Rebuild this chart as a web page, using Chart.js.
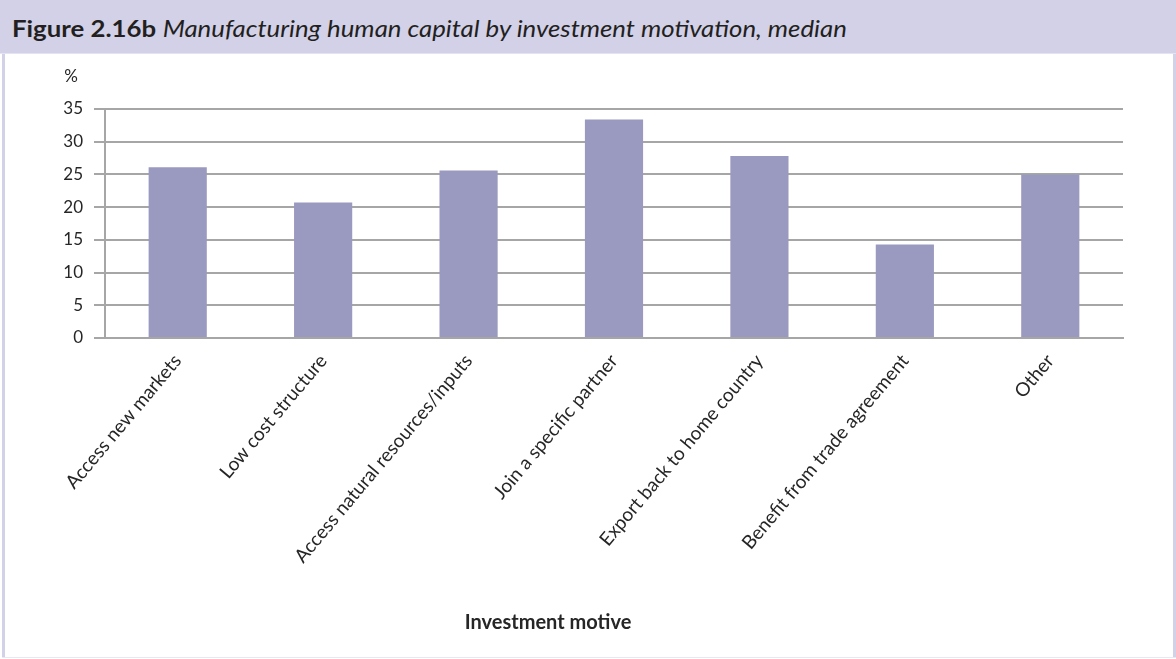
<!DOCTYPE html>
<html><head><meta charset="utf-8">
<script src="https://cdn.jsdelivr.net/npm/chart.js@4"></script>
<style>
html,body{margin:0;padding:0;background:#fff;}
#titlebar{position:absolute;left:0;top:0;width:1176px;height:53px;background:#d2d1e8;border-bottom:1px solid #e4e3f1;}
#titlebar div{position:absolute;left:12px;top:14px;font-family:Lato,"Open Sans",sans-serif;font-size:23px;color:#231f20;white-space:nowrap;transform:scaleX(1.12);transform-origin:0 0;}
#titlebar b{font-weight:700;}
#titlebar i{font-style:italic;}
#lb{position:absolute;left:2px;top:54px;width:3px;height:604px;background:#d2d1e8;}
#rb{position:absolute;left:1173px;top:54px;width:3px;height:604px;background:#d2d1e8;}
#bb{position:absolute;left:2px;top:657px;width:1174px;height:1px;background:#e8e7f3;}
#box{position:absolute;left:5px;top:54px;width:1168px;height:603px;}
</style>
</head><body>
<div id="titlebar"><div><b>Figure 2.16b</b> <i>Manufacturing human capital by investment motivation, median</i></div></div>
<div id="lb"></div><div id="rb"></div><div id="bb"></div>
<div id="box"><canvas id="c" width="1168" height="603"></canvas></div>
<script>
const categories = ["Access new markets","Low cost structure","Access natural resources/inputs","Join a specific partner","Export back to home country","Benefit from trade agreement","Other"];
const values = [26.1, 20.7, 25.6, 33.4, 27.8, 14.3, 25.0];
const yTicks = [0, 5, 10, 15, 20, 25, 30, 35];
const yUnit = "%";
const xTitle = "Investment motive";

const FONT = "Lato, 'Open Sans', sans-serif";
const textPlugin = {
  id: 'extraText',
  afterDraw(chart) {
    const ctx = chart.ctx;
    ctx.save();
    ctx.fillStyle = '#262626';
    ctx.textAlign = 'center';
    ctx.textBaseline = 'middle';
    ctx.font = "17px " + FONT;
    ctx.fillText(yUnit, 66, 23);
    ctx.font = "bold 20px " + FONT;
    ctx.fillText(xTitle, 543, 569);
    ctx.restore();
  }
};

new Chart(document.getElementById('c'), {
  type: 'bar',
  data: {
    labels: categories,
    datasets: [{
      data: values,
      backgroundColor: '#9a99bf',
      borderWidth: 0,
      categoryPercentage: 1,
      barPercentage: 0.4
    }]
  },
  options: {
    responsive: false,
    animation: false,
    devicePixelRatio: 1,
    layout: { padding: { top: 55, right: 50, left: 0, bottom: 0 } },
    plugins: { legend: { display: false }, tooltip: { enabled: false }, title: { display: false } },
    scales: {
      x: {
        grid: { display: false },
        border: { display: true, color: '#a6a6a6', width: 2 },
        ticks: {
          minRotation: 50, maxRotation: 50, autoSkip: false,
          color: '#262626', font: { family: FONT, size: 19 }, padding: 4
        },
        afterFit(scale) { scale.height = 319; }
      },
      y: {
        min: 0, max: 35,
        afterBuildTicks(scale) { scale.ticks = yTicks.map(v => ({ value: v })); },
        grid: { color: '#a6a6a6', lineWidth: 2, tickLength: 11, drawTicks: true },
        border: { display: true, color: '#a6a6a6', width: 2 },
        ticks: { color: '#262626', font: { family: FONT, size: 17 }, padding: 11 },
        afterFit(scale) { scale.width = 100; }
      }
    }
  },
  plugins: [textPlugin]
});
</script>
</body></html>
